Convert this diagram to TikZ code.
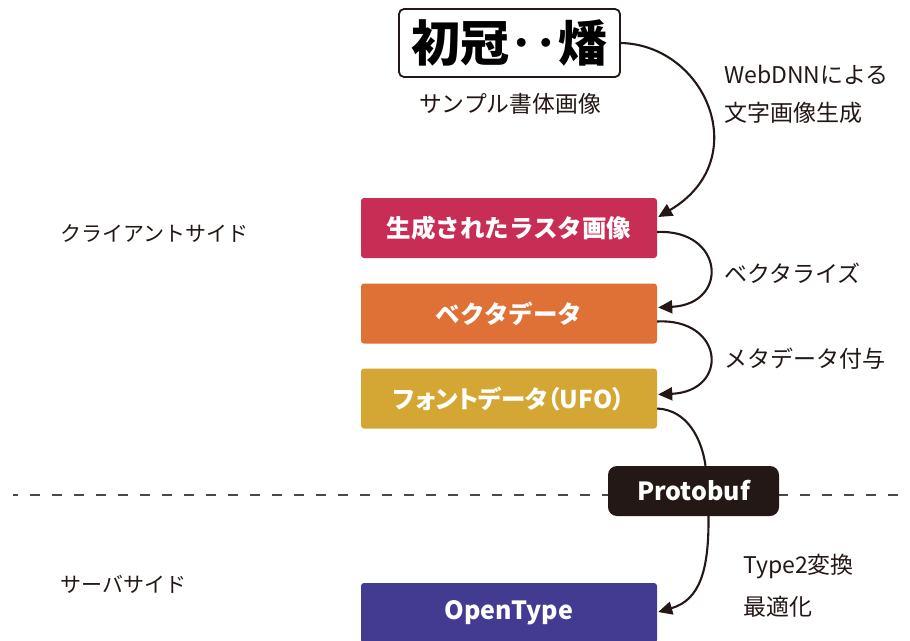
\documentclass[tikz,border=0pt]{standalone}
\usepackage{fontspec}
\setmainfont{Noto Sans CJK JP}
\newfontfamily\jpblack{Noto Sans CJK JP Black}
\usetikzlibrary{arrows.meta,calc}
\definecolor{ink}{HTML}{231815}
\definecolor{cred}{HTML}{C82D55}
\definecolor{corange}{HTML}{DF7136}
\definecolor{cyellow}{HTML}{D4A633}
\definecolor{cpurple}{HTML}{433A92}
\tikzset{
  stagebox/.style={rectangle, rounded corners=3pt, minimum width=296pt, minimum height=60pt, inner sep=0pt, text=white, font=\fontsize{24.5}{28}\selectfont\bfseries},
  lbl/.style={text=ink, inner sep=0pt, anchor=west, font=\fontsize{23}{27}\selectfont},
  sidelbl/.style={text=ink, inner sep=0pt, anchor=west, font=\fontsize{21}{25}\selectfont},
  flow/.style={draw=ink, line width=2.1pt, -{Triangle[length=14pt,width=13pt]}},
  plainflow/.style={draw=ink, line width=2.1pt},
}
\begin{document}
\begin{tikzpicture}[x=1pt,y=-1pt]
\useasboundingbox (0,0) rectangle (910,640);
\fill[white] (0,0) rectangle (910,640);
% sample image
\node[draw=ink, line width=1.8pt, rounded corners=5pt, minimum width=221pt, minimum height=68pt, inner sep=0pt, font=\jpblack\fontsize{49}{53}\selectfont\addfontfeature{RawFeature=+palt}] (sample) at (509.5,43) {初冠‥燔};
\node[text=ink, inner sep=0pt, font=\fontsize{22.8}{26}\selectfont] (samplelbl) at (510,104) {サンプル書体画像};
% stage boxes
\node[stagebox, fill=cred] (raster) at (509,228) {生成されたラスタ画像};
\node[stagebox, fill=corange] (vector) at (509,313.5) {ベクタデータ};
\node[stagebox, fill=cyellow, font=\fontsize{24.5}{28}\selectfont\bfseries\addfontfeature{RawFeature=+palt}] (ufo) at (509,398.5) {フォントデータ（UFO）};
\node[stagebox, fill=cpurple, font=\fontsize{25}{28}\selectfont\bfseries] (otf) at (509,613) {OpenType};
% side labels
\node[sidelbl] (client) at (60,234) {クライアントサイド};
\node[sidelbl] (server) at (60,584) {サーバサイド};
% step labels
\node[lbl] (l1a) at (724,75) {WebDNNによる};
\node[lbl] (l1b) at (724,113) {文字画像生成};
\node[lbl] (l2) at (724,273) {ベクタライズ};
\node[lbl] (l3) at (724,359) {メタデータ付与};
\node[lbl] (l4a) at (743,567) {Type2変換};
\node[lbl] (l4b) at (743,607) {最適化};
% divider
\coordinate (divL) at (13,495);
\coordinate (divR) at (900,495);
\draw[draw=ink!80, line width=1.3pt, dash pattern=on 10pt off 12pt, dash phase=5pt] (divL) -- (divR);
% connectors
\draw[flow] (sample.east) .. controls (706,45) and (755,160) .. ($(raster.east)+(1,-11)$);
\draw[flow] ($(raster.east)+(0,4)$) .. controls (724,229) and (730,304) .. ($(vector.east)+(1,-6)$);
\draw[flow] ($(vector.east)+(0,8)$) .. controls (724,318) and (730,391) .. ($(ufo.east)+(1,-4)$);
% protobuf
\node[rectangle, rounded corners=9pt, fill=ink, minimum width=171pt, minimum height=50pt, inner sep=0pt, text=white, font=\fontsize{25}{28}\selectfont\bfseries] (pb) at (693.5,491) {Protobuf};
\draw[plainflow] ($(ufo.east)+(0,10)$) .. controls (688,410) and (702,440) .. ($(pb.north)+(12,0)$);
\draw[flow] ($(pb.south)+(15,0)$) .. controls (709,570) and (700,600) .. ($(otf.east)+(1,-1)$);
\end{tikzpicture}
\end{document}
